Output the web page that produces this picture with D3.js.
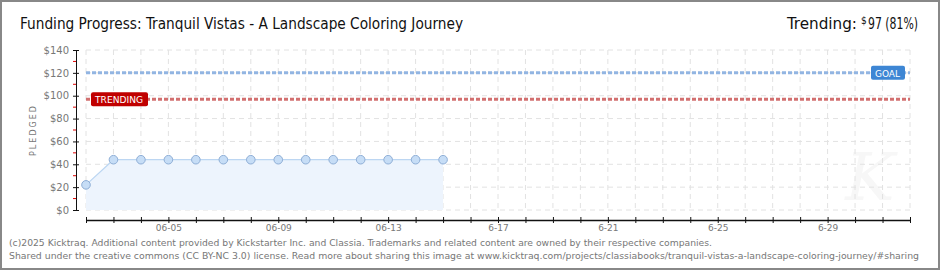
<!doctype html>
<html>
<head>
<meta charset="utf-8"/>
<script src="https://cdnjs.cloudflare.com/ajax/libs/d3/7.8.5/d3.min.js"></script>
<style>
  body { margin: 0; background: #fff; }
  svg { display: block; }
  .grid line { stroke: #e2e2e2; stroke-dasharray: 5,4; }
  .axis text { fill: #777; font-family: "DejaVu Sans", sans-serif; font-size: 9px; }
  .axis path, .axis line { stroke: #111; }
  .foot { fill: #777; font-family: "DejaVu Sans Condensed", "Liberation Sans Narrow", sans-serif; font-size: 9px; }
</style>
</head>
<body>
<svg width="940" height="270"></svg>
<script>
// funding data
var dates = ["2025-06-02","2025-06-03","2025-06-04","2025-06-05","2025-06-06","2025-06-07","2025-06-08",
             "2025-06-09","2025-06-10","2025-06-11","2025-06-12","2025-06-13","2025-06-14","2025-06-15"];
var pledged = [22,44,44,44,44,44,44,44,44,44,44,44,44,44];
var goal = 120;
var trending = 97;
var startDate = "2025-06-02", endDate = "2025-07-02";
var yTicks = [0,20,40,60,80,100,120,140];
var xLabelDates = ["2025-06-05","2025-06-09","2025-06-13","2025-06-17","2025-06-21","2025-06-25","2025-06-29"];
var xLabels = ["06-05","06-09","06-13","6-17","6-21","6-25","6-29"];

var parse = d3.timeParse("%Y-%m-%d");
var fmt = d3.timeFormat("%Y-%m-%d");
var labelMap = {};
xLabelDates.forEach((d,i) => labelMap[d] = xLabels[i]);
var points = dates.map((d,i) => ({date: parse(d), value: pledged[i]}));

var svg = d3.select("svg");
var x = d3.scaleTime().domain([parse(startDate), parse(endDate)]).range([86, 910]);
var y = d3.scaleLinear().domain([0, 140]).range([210, 50]);
var days = d3.timeDay.range(parse(startDate), d3.timeDay.offset(parse(endDate), 1));

// border
svg.append("rect").attr("x",1).attr("y",1).attr("width",938).attr("height",268)
  .attr("fill","#fff").attr("stroke","#888").attr("stroke-width",2);

// watermark
svg.append("text").attr("x",870).attr("y",200).attr("text-anchor","middle")
  .style("font-family","DejaVu Serif").style("font-style","italic").style("font-size","66px")
  .style("fill","#f7f7f7").text("K");

// grid
var grid = svg.append("g").attr("class","grid");
grid.selectAll("line.h").data(yTicks).enter().append("line")
  .attr("x1",86).attr("x2",910).attr("y1",d=>y(d)).attr("y2",d=>y(d));
grid.selectAll("line.v").data(days).enter().append("line")
  .attr("x1",d=>x(d)).attr("x2",d=>x(d)).attr("y1",y(140)).attr("y2",y(0));

// area + line
svg.append("path").datum(points)
  .attr("d", d3.area().x(d=>x(d.date)).y0(y(0)).y1(d=>y(d.value)))
  .attr("fill","#edf4fd");
svg.append("path").datum(points)
  .attr("d", d3.line().x(d=>x(d.date)).y(d=>y(d.value)))
  .attr("fill","none").attr("stroke","#bcd6f2").attr("stroke-width",1.2);

// goal and trending lines
svg.append("line").attr("x1",86).attr("x2",910).attr("y1",y(goal)).attr("y2",y(goal))
  .attr("stroke","#92b5e2").attr("stroke-width",3).attr("stroke-dasharray","4,2");
svg.append("line").attr("x1",86).attr("x2",910).attr("y1",y(trending)).attr("y2",y(trending))
  .attr("stroke","#d27070").attr("stroke-width",3).attr("stroke-dasharray","4,2");

// points
svg.selectAll("circle.pt").data(points).enter().append("circle")
  .attr("cx",d=>x(d.date)).attr("cy",d=>y(d.value)).attr("r",4.3)
  .attr("fill","#c6ddf6").attr("stroke","#8eaed6").attr("stroke-width",1);

// labels
function tag(x0, yv, w, color, txt){
  svg.append("rect").attr("x",x0).attr("y",y(yv)-7).attr("width",w).attr("height",14)
    .attr("rx",2).attr("fill",color);
  svg.append("text").attr("x",x0+4).attr("y",y(yv)+4)
    .style("font-family","DejaVu Sans Condensed, sans-serif").style("font-size","9px")
    .style("fill","#fff").attr("textLength",w-9).attr("lengthAdjust","spacingAndGlyphs").text(txt);
}
tag(871, goal, 34, "#3d86d4", "GOAL");
tag(91, trending, 57, "#c00000", "TRENDING");

// x axis
var xAxis = d3.axisBottom(x).tickValues(days).tickSizeOuter(0)
  .tickFormat(d => labelMap[fmt(d)] || "");
var gx = svg.append("g").attr("class","axis").attr("transform","translate(0,220)").call(xAxis);
gx.selectAll(".tick line").attr("y1",-3).attr("y2",3);
gx.selectAll(".tick text").attr("y",5);
gx.select(".domain").attr("stroke-width",1.5);

// y axis
var yAxis = d3.axisLeft(y).tickValues(yTicks).tickSizeOuter(0).tickFormat(d => "$" + d);
var gy = svg.append("g").attr("class","axis").attr("transform","translate(76,0)").call(yAxis);
gy.selectAll(".tick line").attr("x1",-3).attr("x2",3);
gy.selectAll(".tick text").attr("x",-7).style("font-size","10px");
gy.selectAll("line.minor").data(yTicks.slice(1).map(d=>d-10)).enter().append("line")
  .attr("class","minor").attr("x1",-3).attr("x2",0).attr("y1",d=>y(d)).attr("y2",d=>y(d))
  .style("stroke","#e00000");

svg.append("text").attr("transform","translate(36,130) rotate(-90)").attr("text-anchor","middle")
  .style("font-family","DejaVu Sans, sans-serif").style("font-size","8px").style("fill","#777")
  .style("letter-spacing","2px").text("PLEDGED");

// title
svg.append("text").attr("x",20).attr("y",29)
  .style("font-family","Liberation Sans Narrow, DejaVu Sans Condensed, sans-serif").style("font-size","16px").style("fill","#111")
  .attr("textLength",443).attr("lengthAdjust","spacingAndGlyphs")
  .text("Funding Progress: Tranquil Vistas - A Landscape Coloring Journey");
var tr = svg.append("text").attr("x",787).attr("y",29)
  .style("font-family","Liberation Sans Narrow, DejaVu Sans Condensed, sans-serif").style("font-size","16px").style("fill","#111");
tr.append("tspan").attr("textLength",70).attr("lengthAdjust","spacingAndGlyphs").text("Trending:");
tr.append("tspan").attr("x",861).attr("dy",-5).style("font-size","10px").text("$");
tr.append("tspan").attr("x",868).attr("dy",5).attr("textLength",50).attr("lengthAdjust","spacingAndGlyphs").text("97 (81%)");

// footer
svg.append("text").attr("class","foot").attr("x",9).attr("y",246)
  .attr("textLength",703).attr("lengthAdjust","spacingAndGlyphs")
  .text("(c)2025 Kicktraq. Additional content provided by Kickstarter Inc. and Classia. Trademarks and related content are owned by their respective companies.");
svg.append("text").attr("class","foot").attr("x",9).attr("y",259)
  .attr("textLength",910).attr("lengthAdjust","spacingAndGlyphs")
  .text("Shared under the creative commons (CC BY-NC 3.0) license. Read more about sharing this image at www.kicktraq.com/projects/classiabooks/tranquil-vistas-a-landscape-coloring-journey/#sharing");
</script>
</body>
</html>
